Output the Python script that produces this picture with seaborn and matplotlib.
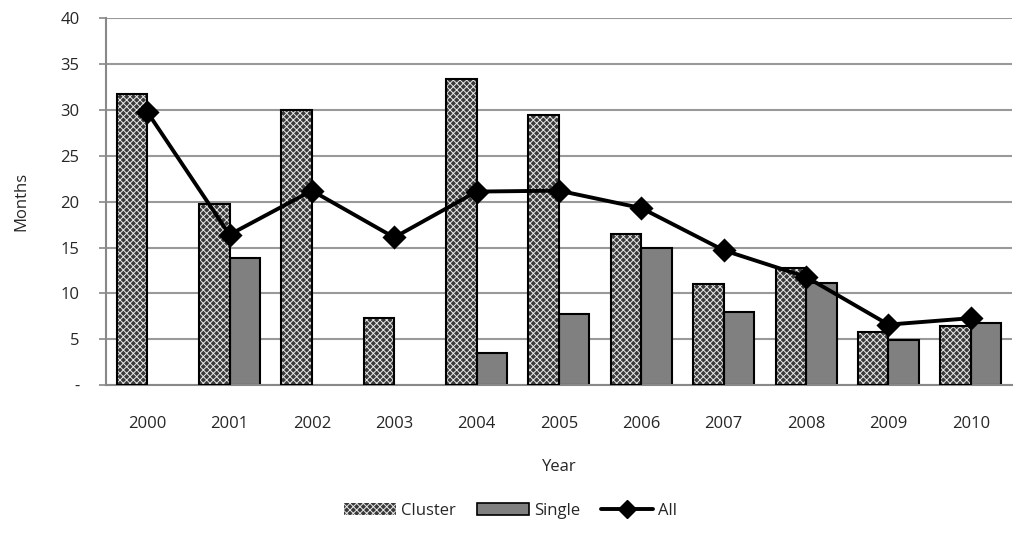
import matplotlib
matplotlib.use("Agg")
import matplotlib.pyplot as plt
import pandas as pd
import seaborn as sns
from matplotlib.patches import Patch
from matplotlib.lines import Line2D

# data
years = ["2000", "2001", "2002", "2003", "2004", "2005", "2006", "2007", "2008", "2009", "2010"]
cluster = [31.7, 19.7, 30.0, 7.3, 33.4, 29.5, 16.5, 11.0, 12.8, 5.8, 6.5]
single = [0.0, 13.9, 0.0, 0.0, 3.5, 7.8, 15.0, 8.0, 11.1, 4.9, 6.8]
all_months = [29.8, 16.4, 21.2, 16.1, 21.1, 21.2, 19.3, 14.7, 11.8, 6.6, 7.3]

sns.set_theme(style="white")
plt.rcParams["font.family"] = ["Open Sans", "DejaVu Sans"]
plt.rcParams["hatch.linewidth"] = 0.7

df = pd.DataFrame({
    "Year": years * 2,
    "Months": cluster + single,
    "Type": ["Cluster"] * len(years) + ["Single"] * len(years),
})

fig = plt.figure(figsize=(10.13, 5.51), dpi=100)
ax = fig.add_axes([0.1046, 0.301, 0.8944, 0.666])

sns.barplot(data=df, x="Year", y="Months", hue="Type", order=years,
            hue_order=["Cluster", "Single"], width=0.74, gap=0,
            palette=["#3a3a3a", "#808080"], ax=ax, legend=False,
            saturation=1, errorbar=None)

# style bars: hatched cluster, plain gray single, black outlines
n = len(years)
for i, bar in enumerate(ax.patches[:2 * n]):
    if i < n:
        bar.set_facecolor("#3a3a3a")
        bar.set_hatch("xxxxx")
        bar.set_edgecolor("#e8e8e8")
        bar.set_linewidth(0)
        x, w, h = bar.get_x(), bar.get_width(), bar.get_height()
        if h > 0:
            ax.add_patch(plt.Rectangle((x, 0), w, h, fill=False, edgecolor="black",
                                       linewidth=1.5, zorder=3))
    else:
        bar.set_facecolor("#808080")
        bar.set_edgecolor("black")
        bar.set_linewidth(1.5 if bar.get_height() > 0 else 0)

sns.pointplot(x=years, y=all_months, color="black", markers="D", markersize=10,
              linewidth=2.8, ax=ax, zorder=5)

ax.set_xlim(-0.5, 10.5)
ax.set_ylim(0, 40)
ax.set_yticks(range(0, 41, 5))
ax.set_yticklabels(["-"] + [str(v) for v in range(5, 41, 5)])
ax.yaxis.grid(True, color="#999999", linewidth=1.5)
ax.set_axisbelow(True)
for s in ["top", "right"]:
    ax.spines[s].set_visible(False)
ax.spines["left"].set_color("#888888")
ax.spines["bottom"].set_color("#888888")
ax.spines["left"].set_linewidth(1.5)
ax.spines["bottom"].set_linewidth(1.5)
ax.tick_params(axis="y", left=True, length=5, width=1.2, color="#888888",
               labelsize=12, pad=14)
ax.tick_params(axis="x", bottom=False, labelsize=12, pad=16)
ax.set_xlabel("Year", fontsize=12, labelpad=20)
ax.set_ylabel("Months", fontsize=12, labelpad=22)

handles = [
    Patch(facecolor="#3a3a3a", edgecolor="#e8e8e8", hatch="xxxxx", linewidth=0),
    Patch(facecolor="#808080", edgecolor="black", linewidth=1.2),
    Line2D([0], [0], color="black", linewidth=2.8, marker="D", markersize=9),
]
fig.legend(handles, ["Cluster", "Single", "All"], loc="center",
           bbox_to_anchor=(0.504, 0.073), ncol=3, frameon=False, fontsize=12,
           handlelength=3.1, handletextpad=0.3, columnspacing=1.3)

fig.savefig("out.png", dpi=100)
